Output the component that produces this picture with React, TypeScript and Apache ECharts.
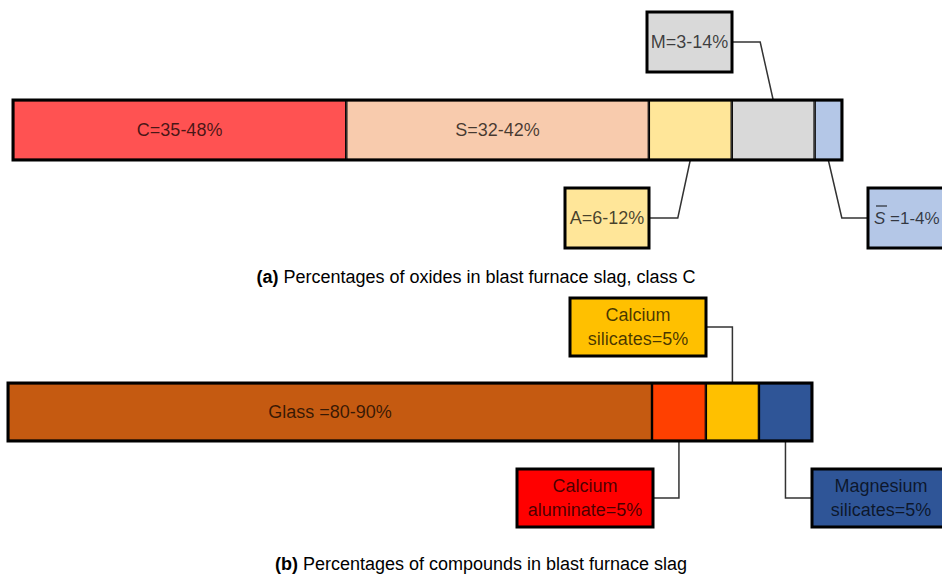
import React, { useEffect, useRef } from 'react';
import * as echarts from 'echarts';

// ---- data ----
const oxideLabels = ['C=35-48%', 'S=32-42%', 'A=6-12%', 'M=3-14%', 'S=1-4%'];
const oxideShares = [40.2, 36.5, 10.0, 10.0, 3.3];
const oxideColors = ['#FF5252', '#F8CBAD', '#FFE699', '#D9D9D9', '#B4C7E7'];
const oxideInside = [true, true, false, false, false];

const compoundLabels = ['Glass =80-90%', 'Calcium\naluminate=5%', 'Calcium\nsilicates=5%', 'Magnesium\nsilicates=5%'];
const compoundShares = [80.1, 6.7, 6.6, 6.6];
const compoundColors = ['#C55A11', '#FF4000', '#FFC000', '#2F5597'];
const compoundBoxColors = ['#C55A11', '#FF0000', '#FFC000', '#2F5597'];
const compoundInside = [true, false, false, false];

const captions = [
  { tag: '(a)', text: ' Percentages of oxides in blast furnace slag, class C' },
  { tag: '(b)', text: ' Percentages of compounds in blast furnace slag' },
];

// ---- layout ----
const FONT = '"Liberation Sans", Arial, sans-serif';
const TXT = 'rgba(0,0,0,0.72)';
const FS = 18;
const grids = [
  { left: 13, top: 100, width: 829, height: 60 },
  { left: 8, top: 383, width: 804, height: 58 },
];
const callouts = [
  [
    { idx: 3, box: [647, 12, 85, 60], edge: 'right', anchor: 'top', dx: -13 },
    { idx: 2, box: [565, 188, 84, 60], edge: 'right', anchor: 'bottom', dx: -12.5 },
    { idx: 4, box: [868, 188, 85, 60], edge: 'left', anchor: 'bottom', dx: 13.5, overline: true },
  ],
  [
    { idx: 2, box: [570, 298, 136, 58], edge: 'right', anchor: 'top', dx: 0 },
    { idx: 1, box: [517, 469, 136, 58], edge: 'right', anchor: 'bottom', dx: 0 },
    { idx: 3, box: [812, 469, 138, 58], edge: 'left', anchor: 'bottom', dx: 0 },
  ],
];
const captionPos = [
  [476, 277],
  [481, 564],
];

const groups = [
  { shares: oxideShares, colors: oxideColors, labels: oxideLabels, inside: oxideInside, boxColors: oxideColors },
  { shares: compoundShares, colors: compoundColors, labels: compoundLabels, inside: compoundInside, boxColors: compoundBoxColors },
];

export default function App() {
  const ref = useRef<HTMLDivElement>(null);
  useEffect(() => {
    if (!ref.current) return;
    const chart = echarts.init(ref.current, undefined, { renderer: 'svg' });
    const series: any[] = [];
    groups.forEach((g, gi) => {
      g.shares.forEach((v, i) => {
        series.push({
          type: 'bar',
          name: g.labels[i],
          xAxisIndex: gi,
          yAxisIndex: gi,
          stack: 'g' + gi,
          barWidth: '100%',
          silent: true,
          data: [v],
          itemStyle: { color: g.colors[i], borderColor: '#000', borderWidth: 1.2 },
          label: {
            show: g.inside[i],
            position: 'inside',
            formatter: g.labels[i],
            color: TXT,
            fontSize: FS,
            fontFamily: FONT,
          },
        });
      });
    });
    const option: any = {
      animation: false,
      backgroundColor: '#fff',
      grid: grids.map((g) => ({ ...g, containLabel: false })),
      xAxis: groups.map((g, gi) => ({
        type: 'value',
        gridIndex: gi,
        min: 0,
        max: g.shares.reduce((a, b) => a + b, 0),
        show: false,
      })),
      yAxis: groups.map((_, gi) => ({
        type: 'category',
        gridIndex: gi,
        data: ['slag'],
        show: false,
      })),
      series,
    };
    chart.setOption(option);

    const graphic: any[] = [];
    groups.forEach((g, gi) => {
      const gr = grids[gi];
      graphic.push({
        type: 'rect',
        shape: { x: gr.left, y: gr.top, width: gr.width, height: gr.height },
        style: { fill: 'none', stroke: '#000', lineWidth: 3 },
        z: 100,
        silent: true,
      });
      const cum: number[] = [];
      let s = 0;
      g.shares.forEach((v) => {
        cum.push(s + v / 2);
        s += v;
      });
      callouts[gi].forEach((c: any) => {
        const p = chart.convertToPixel({ xAxisIndex: gi, yAxisIndex: gi } as any, [cum[c.idx], 'slag']) as any;
        const ax = p[0];
        const ay = c.anchor === 'top' ? gr.top : gr.top + gr.height;
        const [bx, by, bw, bh] = c.box;
        const my = by + bh / 2;
        const ex = c.edge === 'right' ? bx + bw : bx;
        graphic.push({
          type: 'polyline',
          shape: { points: [[ex, my], [ax + c.dx, my], [ax, ay]] },
          style: { stroke: '#333', lineWidth: 1.5, fill: 'none' },
          z: 90,
          silent: true,
        });
        graphic.push({
          type: 'rect',
          shape: { x: bx, y: by, width: bw, height: bh },
          style: { fill: g.boxColors[c.idx], stroke: '#000', lineWidth: 3 },
          z: 95,
          silent: true,
        });
        if (c.overline) {
          graphic.push({
            type: 'text',
            x: bx + 6,
            y: my,
            style: {
              text: '{i|S} =1-4%',
              align: 'left',
              verticalAlign: 'middle',
              fontSize: 17,
              fontFamily: FONT,
              fill: TXT,
              rich: { i: { fontStyle: 'italic', fontSize: 17, fontFamily: FONT, fill: TXT } },
            },
            z: 96,
            silent: true,
          });
          graphic.push({
            type: 'line',
            shape: { x1: bx + 8, y1: my - 12, x2: bx + 19, y2: my - 12 },
            style: { stroke: TXT, lineWidth: 1.3 },
            z: 96,
            silent: true,
          });
        } else {
          graphic.push({
            type: 'text',
            x: bx + bw / 2,
            y: my,
            style: {
              text: g.labels[c.idx],
              align: 'center',
              verticalAlign: 'middle',
              fontSize: FS,
              lineHeight: 24,
              fontFamily: FONT,
              fill: TXT,
            },
            z: 96,
            silent: true,
          });
        }
      });
      graphic.push({
        type: 'text',
        x: captionPos[gi][0],
        y: captionPos[gi][1],
        style: {
          text: '{b|' + captions[gi].tag + '}' + captions[gi].text,
          align: 'center',
          verticalAlign: 'middle',
          fontSize: 18,
          fontFamily: FONT,
          fill: '#000',
          rich: { b: { fontWeight: 'bold', fontSize: 18, fontFamily: FONT, fill: '#000' } },
        },
        silent: true,
      });
    });
    chart.setOption({ graphic });
    return () => chart.dispose();
  }, []);
  return (
    <div
      ref={ref}
      style={{ position: 'fixed', left: 0, top: 0, width: 942, height: 574, background: '#fff' }}
    />
  );
}
